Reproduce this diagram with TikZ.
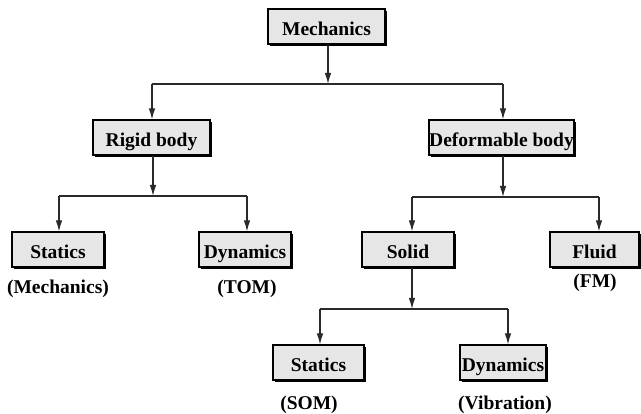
\documentclass[tikz,border=0pt]{standalone}
\usepackage{fontspec}
\setmainfont{Liberation Serif}
\usetikzlibrary{arrows.meta,shadows}
\definecolor{boxfill}{HTML}{E6E6E6}
\definecolor{linecol}{HTML}{2A2A2A}
\tikzset{
  box/.style={draw=black, line width=1.1pt, fill=boxfill, minimum height=35pt,
    inner sep=0pt, text height=17.5pt, text depth=0pt,
    font=\fontsize{19.5}{21}\selectfont\bfseries,
    drop shadow={shadow xshift=2.2pt, shadow yshift=-2.2pt, fill=black, opacity=1}},
  lab/.style={inner sep=0pt, text height=13.5pt, text depth=4pt,
    font=\fontsize{19.5}{21}\selectfont\bfseries},
  conn/.style={draw=linecol, line width=1.1pt},
  arr/.style={conn, -{Latex[length=11pt,width=6.5pt]}}
}
\begin{document}
\begin{tikzpicture}[x=1pt,y=-1pt]
\useasboundingbox (0,0) rectangle (641,414);
% nodes
\node[box, minimum width=117pt] (mech) at (326.5,26.5) {Mechanics};
\node[box, minimum width=117pt] (rigid) at (151.5,137.5) {Rigid body};
\node[box, minimum width=145pt] (deform) at (501.5,137.5) {Deformable body};
\node[box, minimum width=92pt] (stat1) at (58,249.5) {Statics};
\node[box, minimum width=92pt] (dyn1) at (245,249.5) {Dynamics};
\node[box, minimum width=92pt] (solid) at (408,249.5) {Solid};
\node[box, minimum width=89pt] (fluid) at (594.5,249.5) {Fluid};
\node[box, minimum width=91pt] (stat2) at (318.5,362.5) {Statics};
\node[box, minimum width=86pt] (dyn2) at (503,362.5) {Dynamics};
% labels
\node[lab] (l1) at (58,289) {(Mechanics)};
\node[lab] (l2) at (247,289) {(TOM)};
\node[lab] (l3) at (595,283) {(FM)};
\node[lab] (l4) at (309,405) {(SOM)};
\node[lab] (l5) at (505,405) {(Vibration)};
% level 1
\coordinate (j1) at (328,84);
\coordinate (j1l) at (152,84);
\coordinate (j1r) at (503,84);
\draw[arr] (j1 |- mech.south) -- (j1);
\draw[conn] (j1l) -- (j1r);
\draw[arr] (j1l) -- (j1l |- rigid.north);
\draw[arr] (j1r) -- (j1r |- deform.north);
% level 2 left
\coordinate (j2) at (153,196);
\coordinate (j2l) at (59,196);
\coordinate (j2r) at (247,196);
\draw[arr] (j2 |- rigid.south) -- (j2);
\draw[conn] (j2l) -- (j2r);
\draw[arr] (j2l) -- (j2l |- stat1.north);
\draw[arr] (j2r) -- (j2r |- dyn1.north);
% level 2 right
\coordinate (j3) at (503,197);
\coordinate (j3l) at (412,197);
\coordinate (j3r) at (599,197);
\draw[arr] (j3 |- deform.south) -- (j3);
\draw[conn] (j3l) -- (j3r);
\draw[arr] (j3l) -- (j3l |- solid.north);
\draw[arr] (j3r) -- (j3r |- fluid.north);
% level 3
\coordinate (j4) at (412,309);
\coordinate (j4l) at (320,309);
\coordinate (j4r) at (508,309);
\draw[arr] (j4 |- solid.south) -- (j4);
\draw[conn] (j4l) -- (j4r);
\draw[arr] (j4l) -- (j4l |- stat2.north);
\draw[arr] (j4r) -- (j4r |- dyn2.north);
\end{tikzpicture}
\end{document}
